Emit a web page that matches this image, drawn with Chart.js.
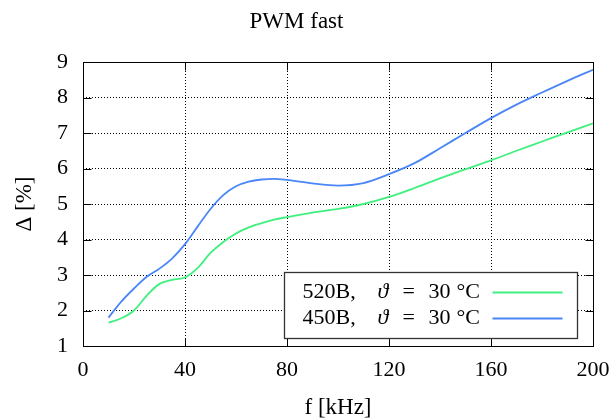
<!DOCTYPE html>
<html>
<head>
<meta charset="utf-8">
<script src="https://cdn.jsdelivr.net/npm/chart.js@4/dist/chart.umd.min.js"></script>
<style>
html,body{margin:0;padding:0;background:#fff;}
#wrap{width:613px;height:420px;}
</style>
</head>
<body>
<div id="wrap"><canvas id="c" width="613" height="420"></canvas></div>
<script>
// ---- data ----
const freq = [10,15,20,25,30,35,40,45,50,55,60,65,70,75,80,90,100,110,120,130,140,150,160,170,180,190,200];
const delta520B = [1.66,1.78,2.00,2.42,2.75,2.86,2.93,3.20,3.62,3.93,4.17,4.34,4.46,4.56,4.63,4.76,4.86,5.00,5.20,5.45,5.72,5.98,6.23,6.50,6.76,7.02,7.27];
const delta450B = [1.80,2.25,2.62,2.95,3.18,3.47,3.87,4.37,4.86,5.25,5.50,5.63,5.69,5.71,5.68,5.58,5.52,5.59,5.84,6.15,6.57,7.00,7.42,7.80,8.14,8.47,8.78];
const xTicks = [0,40,80,120,160,200];
const yTicks = [1,2,3,4,5,6,7,8,9];
const seriesNames = ['520B', '450B'];
const seriesTemp = ['30', '30'];
const titleText = 'PWM fast';
const xTitle = 'f [kHz]';
const yTitle = 'Δ [%]';

const GREEN = '#3ff07e';
const BLUE = '#4a86f7';
const FONT = "'Liberation Serif', 'DejaVu Serif', serif";

const framePlugin = {
  id: 'frame',
  afterDatasetsDraw(chart) {
    const {ctx, chartArea: a, scales: {x, y}} = chart;
    ctx.save();
    ctx.strokeStyle = '#000';
    ctx.lineWidth = 1;
    ctx.setLineDash([]);
    const L = Math.round(a.left) + 0.5, R = Math.round(a.right) + 0.5;
    const T = Math.round(a.top) + 0.5, B = Math.round(a.bottom) + 0.5;
    ctx.strokeRect(L, T, R - L, B - T);
    const tl = 8;
    ctx.beginPath();
    xTicks.forEach(v => {
      const px = Math.round(x.getPixelForValue(v)) + 0.5;
      ctx.moveTo(px, B); ctx.lineTo(px, B - tl);
      ctx.moveTo(px, T); ctx.lineTo(px, T + tl);
    });
    yTicks.forEach(v => {
      const py = Math.round(y.getPixelForValue(v)) + 0.5;
      ctx.moveTo(L, py); ctx.lineTo(L + tl, py);
      ctx.moveTo(R, py); ctx.lineTo(R - tl, py);
    });
    ctx.stroke();

    // legend box
    const bw = 293, bh = 66;
    const bx = Math.round(a.right - 16 - bw) + 0.5;
    const by = Math.round(a.bottom - 8 - bh) + 0.5;
    ctx.fillStyle = '#fff';
    ctx.fillRect(bx, by, bw, bh);
    ctx.strokeStyle = '#333';
    ctx.lineWidth = 1.3;
    ctx.strokeRect(bx, by, bw, bh);
    const rows = [by + 20, by + 46];
    const fs = 22;
    chart.data.datasets.forEach((ds, i) => {
      const cy = rows[i];
      ctx.fillStyle = '#000';
      ctx.textBaseline = 'middle';
      ctx.textAlign = 'left';
      ctx.font = fs + "px " + FONT;
      ctx.fillText(seriesNames[i] + ',', bx + 18, cy);
      ctx.font = "italic " + fs + "px " + FONT;
      ctx.fillText('ϑ', bx + 93, cy);
      ctx.font = fs + "px " + FONT;
      ctx.fillText('=', bx + 118, cy);
      ctx.fillText(seriesTemp[i], bx + 144, cy);
      ctx.fillText('°C', bx + 172, cy);
      ctx.strokeStyle = ds.borderColor;
      ctx.lineWidth = 2;
      ctx.beginPath();
      ctx.moveTo(bx + 208, cy); ctx.lineTo(bx + 278, cy);
      ctx.stroke();
    });
    ctx.restore();
  }
};

new Chart(document.getElementById('c'), {
  type: 'line',
  data: {
    datasets: [
      { label: seriesNames[0], data: freq.map((f, i) => ({x: f, y: delta520B[i]})), borderColor: GREEN, borderWidth: 1.8, pointRadius: 0, cubicInterpolationMode: 'monotone', fill: false },
      { label: seriesNames[1], data: freq.map((f, i) => ({x: f, y: delta450B[i]})), borderColor: BLUE, borderWidth: 1.8, pointRadius: 0, cubicInterpolationMode: 'monotone', fill: false }
    ]
  },
  options: {
    responsive: false,
    animation: false,
    events: [],
    layout: { padding: { left: 0, right: 20, top: 0, bottom: 0 } },
    plugins: {
      legend: { display: false },
      tooltip: { enabled: false },
      title: {
        display: true, text: titleText, color: '#000',
        font: { family: FONT, size: 23, weight: 'normal', lineHeight: 1.2 },
        padding: { top: 8, bottom: 26.4 }
      }
    },
    scales: {
      x: {
        type: 'linear', min: 0, max: 200,
        afterBuildTicks: s => { s.ticks = xTicks.map(v => ({value: v})); },
        afterFit: s => { s.height = 74; s.paddingLeft = 0; s.paddingRight = 0; },
        ticks: { color: '#000', font: { family: FONT, size: 22 }, padding: 11, maxRotation: 0 },
        grid: { color: '#000', lineWidth: 1, drawTicks: false },
        border: { display: false, dash: [1, 2] },
        title: { display: true, text: xTitle, color: '#000', font: { family: FONT, size: 23 }, padding: { top: 0, bottom: -2 } }
      },
      y: {
        type: 'linear', min: 1, max: 9,
        afterBuildTicks: s => { s.ticks = yTicks.map(v => ({value: v})); },
        afterFit: s => { s.width = 83; s.paddingTop = 0; s.paddingBottom = 0; },
        ticks: { color: '#000', font: { family: FONT, size: 22 }, padding: 15 },
        grid: { color: '#000', lineWidth: 1, drawTicks: false },
        border: { display: false, dash: [1, 2] },
        title: { display: true, text: yTitle, color: '#000', font: { family: FONT, size: 23 }, padding: { top: 11, bottom: 0 } }
      }
    }
  },
  plugins: [framePlugin]
});
</script>
</body>
</html>
